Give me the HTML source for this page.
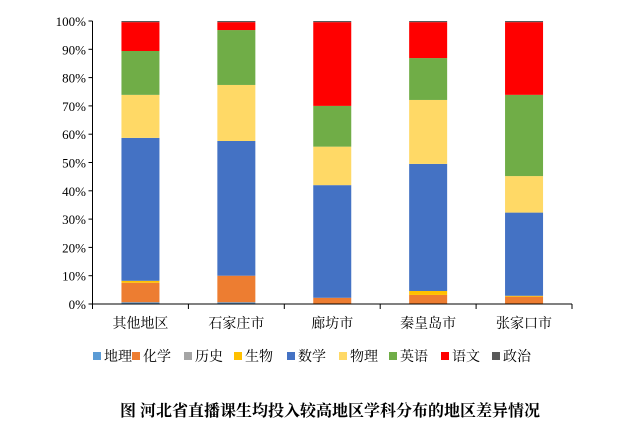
<!DOCTYPE html>
<html><head><meta charset="utf-8"><style>
body{margin:0;background:#fff;width:643px;height:437px;overflow:hidden}
text{font-family:"Liberation Serif","Noto Serif CJK SC",serif}
</style></head><body>
<svg id="c" width="643" height="437"></svg>
<script>
const categories=["其他地区","石家庄市","廊坊市","秦皇岛市","张家口市"];
const seriesNames=["地理","化学","历史","生物","数学","物理","英语","语文","政治"];
const colors=["#5B9BD5","#ED7D31","#A5A5A5","#FFC000","#4472C4","#FFD966","#70AD47","#FF0000","#595959"];
const geo=[0.6,0.6,0,0,0];
const chem=[6.9,9.4,2.2,3.2,2.6];
const hist=[0,0,0,0,0];
const bio=[0.7,0,0,1.4,0.3];
const math=[50.5,47.6,39.8,44.9,29.4];
const phys=[15.2,19.8,13.6,22.6,12.9];
const eng=[15.5,19.4,14.4,14.8,28.7];
const chn=[10.2,2.8,29.6,12.7,25.7];
const pol=[0.4,0.4,0.4,0.4,0.4];
const series=[geo,chem,hist,bio,math,phys,eng,chn,pol];
const yTicks=[0,10,20,30,40,50,60,70,80,90,100];
const NS="http://www.w3.org/2000/svg";
const svg=document.getElementById('c');
const x0=92.5,x1=572,y0=304,y1=21;
const bw=(x1-x0)/categories.length;
const Y=v=>y0-(y0-y1)*v/100;
const X=i=>x0+bw*i+bw/2;
function el(t,a,p){const e=document.createElementNS(NS,t);for(const k in a)e.setAttribute(k,a[k]);(p||svg).appendChild(e);return e;}
yTicks.forEach(t=>{
 const tx=el('text',{x:86,y:Y(t)+5,'text-anchor':'end','font-size':13,fill:'#000'});
 tx.textContent=t+'%';
 
 
 el('line',{x1:x0-4,x2:x0,y1:Y(t),y2:Y(t),stroke:'#000'});
});
categories.forEach((c,i)=>{
 let acc=0;
 series.forEach((s,k)=>{
  const v=s[i]; if(v<=0){return;}
  const r=el('rect',{x:X(i)-19,width:38,y:Y(acc+v),height:Y(acc)-Y(acc+v),fill:colors[k]});
  
  
  acc+=v;
 });
 const tx=el('text',{x:X(i),y:328,'text-anchor':'middle','font-size':14,fill:'#000'});
 tx.textContent=c;
 
 
 el('line',{x1:x0+bw*(i+1),x2:x0+bw*(i+1),y1:y0,y2:y0+5,stroke:'#000'});
});
el('line',{x1:x0,x2:x0,y1:y1,y2:y0,stroke:'#000'});
el('line',{x1:x0,x2:x1,y1:y0,y2:y0,stroke:'#000'});
el('line',{x1:x0,x2:x0,y1:y0,y2:y0+5,stroke:'#000'});
const lx=[93,132,184,234,287,339,389,441,492];
seriesNames.forEach((n,k)=>{
 const g=el('g',{});
 
 
 el('rect',{x:lx[k],y:352,width:8,height:8,fill:colors[k]},g);
 const t=el('text',{x:lx[k]+11,y:361,'font-size':14,fill:'#000'},g);
 t.textContent=n;
});
const title=el('text',{x:330,y:416,'text-anchor':'middle','font-size':16,'font-weight':'bold',fill:'#000'});
title.textContent='图  河北省直播课生均投入较高地区学科分布的地区差异情况';


</script>
</body></html>
